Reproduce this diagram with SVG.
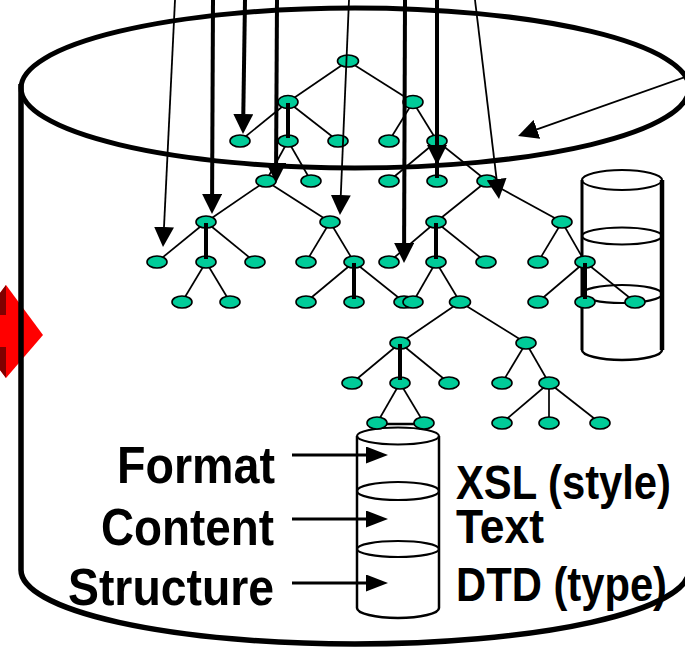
<svg xmlns="http://www.w3.org/2000/svg" width="685" height="650" viewBox="0 0 685 650">
  <style>
    .n { fill: #00CC99; stroke: #000; stroke-width: 1.6; }
    .e { stroke: #000; stroke-width: 1.7; fill: none; }
    .stem { stroke: #000; stroke-width: 4; fill: none; }
    .thin { stroke: #000; stroke-width: 1.8; fill: none; marker-end: url(#head); }
    .thick { stroke: #000; stroke-width: 4; fill: none; marker-end: url(#head); }
    .lab { stroke: #000; stroke-width: 3; fill: none; marker-end: url(#labhead); }
    .cyl { stroke: #000; fill: none; }
    text { font-family: "Liberation Sans", Arial, sans-serif; font-weight: bold; font-size: 52px; fill: #000; }
    .r { font-size: 48px; }
  </style>
  <defs>
    <marker id="head" markerUnits="userSpaceOnUse" viewBox="0 0 20 20" markerWidth="20" markerHeight="20" refX="0" refY="10" orient="auto">
      <path d="M0,0 L20,10 L0,20 z" fill="#000"/>
    </marker>
    <marker id="labhead" markerUnits="userSpaceOnUse" viewBox="0 0 22 17" markerWidth="22" markerHeight="17" refX="0" refY="8.5" orient="auto">
      <path d="M0,0 L22,8.5 L0,17 z" fill="#000"/>
    </marker>
  </defs>

  <!-- double-headed red arrow at the left margin -->
  <g id="exchange-arrow">
    <polygon points="6,285 43,335 6,378 0,370 0,293" fill="#FF0000"/>
    <polygon points="6,285 0,293 0,315 6,315" fill="#800000"/>
    <polygon points="6,347 0,347 0,370 6,378" fill="#800000"/>
  </g>

  <!-- large repository cylinder -->
  <g id="repository">
    <ellipse class="cyl" cx="355" cy="88" rx="334" ry="80" stroke-width="5"/>
    <path class="cyl" d="M21,84 V570 A334 74 0 0 0 689,570" stroke-width="5.5"/>
  </g>

  <!-- small storage cylinder, right -->
  <g id="store-right">
    <ellipse class="cyl" cx="622" cy="180" rx="40" ry="10" stroke-width="2"/>
    <ellipse class="cyl" cx="622" cy="236" rx="40" ry="8.5" stroke-width="2.2"/>
    <ellipse class="cyl" cx="622" cy="294" rx="40" ry="9" stroke-width="2.2"/>
    <line class="cyl" x1="582" y1="180" x2="582" y2="350" stroke-width="3"/>
    <line class="cyl" x1="662" y1="180" x2="662" y2="350" stroke-width="4.5"/>
    <path class="cyl" d="M582,350 A40 10 0 0 0 662,350" stroke-width="2.5"/>
  </g>

  <!-- small storage cylinder, bottom -->
  <g id="store-bottom">
    <ellipse class="cyl" cx="398" cy="436" rx="41" ry="8.5" stroke-width="2"/>
    <ellipse class="cyl" cx="398" cy="491" rx="41" ry="9" stroke-width="2.2"/>
    <ellipse class="cyl" cx="398" cy="549" rx="41" ry="8" stroke-width="2.2"/>
    <line class="cyl" x1="357" y1="436" x2="357" y2="608" stroke-width="2.5"/>
    <line class="cyl" x1="439" y1="436" x2="439" y2="608" stroke-width="2.5"/>
    <path class="cyl" d="M357,608 A41 10 0 0 0 439,608" stroke-width="2.5"/>
  </g>

  <!-- tree edges -->
  <g id="tree-edges" class="e">
    <line x1="348" y1="61" x2="288" y2="102"/>
    <line x1="348" y1="61" x2="413" y2="102"/>
    <line x1="288" y1="102" x2="240" y2="141"/>
    <line x1="288" y1="102" x2="338" y2="141"/>
    <line x1="413" y1="102" x2="389" y2="141"/>
    <line x1="413" y1="102" x2="437" y2="141"/>
    <line x1="288" y1="141" x2="266" y2="181"/>
    <line x1="288" y1="141" x2="311" y2="181"/>
    <line x1="437" y1="141" x2="389" y2="181"/>
    <line x1="437" y1="141" x2="487" y2="181"/>
    <line x1="266" y1="181" x2="206" y2="222"/>
    <line x1="266" y1="181" x2="330" y2="222"/>
    <line x1="206" y1="222" x2="157" y2="262"/>
    <line x1="206" y1="222" x2="255" y2="262"/>
    <line x1="206" y1="262" x2="182" y2="302"/>
    <line x1="206" y1="262" x2="230" y2="302"/>
    <line x1="330" y1="222" x2="306" y2="262"/>
    <line x1="330" y1="222" x2="354" y2="262"/>
    <line x1="354" y1="262" x2="306" y2="302"/>
    <line x1="354" y1="262" x2="404" y2="302"/>
    <line x1="487" y1="181" x2="436" y2="222"/>
    <line x1="487" y1="181" x2="562" y2="222"/>
    <line x1="436" y1="222" x2="389" y2="262"/>
    <line x1="436" y1="222" x2="486" y2="262"/>
    <line x1="436" y1="262" x2="413" y2="302"/>
    <line x1="436" y1="262" x2="460" y2="302"/>
    <line x1="562" y1="222" x2="538" y2="262"/>
    <line x1="562" y1="222" x2="585" y2="262"/>
    <line x1="585" y1="262" x2="538" y2="302"/>
    <line x1="585" y1="262" x2="635" y2="302"/>
    <line x1="460" y1="302" x2="400" y2="343"/>
    <line x1="460" y1="302" x2="526" y2="343"/>
    <line x1="400" y1="343" x2="352" y2="383"/>
    <line x1="400" y1="343" x2="449" y2="383"/>
    <line x1="400" y1="383" x2="377" y2="423"/>
    <line x1="400" y1="383" x2="424" y2="423"/>
    <line x1="526" y1="343" x2="502" y2="383"/>
    <line x1="526" y1="343" x2="549" y2="383"/>
    <line x1="549" y1="383" x2="502" y2="423"/>
    <line x1="549" y1="383" x2="549" y2="423"/>
    <line x1="549" y1="383" x2="600" y2="423"/>
    <line x1="377" y1="424" x2="424" y2="424" stroke-width="2.5"/>
  </g>

  <!-- element nodes -->
  <g id="a0"><ellipse class="n" cx="348" cy="61" rx="10.5" ry="6"/></g>
  <g id="a1"><ellipse class="n" cx="288" cy="102" rx="10" ry="6.5"/></g>
  <g id="a2"><ellipse class="n" cx="413" cy="102" rx="10" ry="6.5"/></g>
  <g id="a3"><ellipse class="n" cx="240" cy="141" rx="10" ry="6"/></g>
  <g id="a4"><ellipse class="n" cx="288" cy="141" rx="10" ry="6"/></g>
  <g id="a5"><ellipse class="n" cx="338" cy="141" rx="10" ry="6"/></g>
  <g id="a6"><ellipse class="n" cx="389" cy="141" rx="10" ry="6"/></g>
  <g id="a7"><ellipse class="n" cx="437" cy="141" rx="10" ry="6"/></g>
  <g id="a8"><ellipse class="n" cx="266" cy="181" rx="10" ry="6"/></g>
  <g id="a9"><ellipse class="n" cx="311" cy="181" rx="10" ry="6"/></g>
  <g id="a10"><ellipse class="n" cx="389" cy="181" rx="10" ry="6"/></g>
  <g id="a11"><ellipse class="n" cx="437" cy="181" rx="10" ry="6"/></g>
  <g id="a12"><ellipse class="n" cx="487" cy="181" rx="10" ry="6"/></g>
  <g id="b1"><ellipse class="n" cx="206" cy="222" rx="10" ry="6"/></g>
  <g id="b2"><ellipse class="n" cx="330" cy="222" rx="10" ry="6"/></g>
  <g id="b3"><ellipse class="n" cx="157" cy="262" rx="10" ry="6"/></g>
  <g id="b4"><ellipse class="n" cx="206" cy="262" rx="10" ry="6"/></g>
  <g id="b5"><ellipse class="n" cx="255" cy="262" rx="10" ry="6"/></g>
  <g id="b6"><ellipse class="n" cx="182" cy="302" rx="10" ry="6"/></g>
  <g id="b7"><ellipse class="n" cx="230" cy="302" rx="10" ry="6"/></g>
  <g id="b8"><ellipse class="n" cx="306" cy="262" rx="10" ry="6"/></g>
  <g id="b9"><ellipse class="n" cx="354" cy="262" rx="10" ry="6"/></g>
  <g id="b10"><ellipse class="n" cx="306" cy="302" rx="10" ry="6"/></g>
  <g id="b11"><ellipse class="n" cx="354" cy="302" rx="10" ry="6"/></g>
  <g id="b12"><ellipse class="n" cx="404" cy="302" rx="10" ry="6"/></g>
  <g id="c1"><ellipse class="n" cx="436" cy="222" rx="10" ry="6"/></g>
  <g id="c2"><ellipse class="n" cx="562" cy="222" rx="10" ry="6"/></g>
  <g id="c3"><ellipse class="n" cx="389" cy="262" rx="10" ry="6"/></g>
  <g id="c4"><ellipse class="n" cx="436" cy="262" rx="10" ry="6"/></g>
  <g id="c5"><ellipse class="n" cx="486" cy="262" rx="10" ry="6"/></g>
  <g id="c6"><ellipse class="n" cx="413" cy="302" rx="10" ry="6"/></g>
  <g id="c7"><ellipse class="n" cx="460" cy="302" rx="10.5" ry="6"/></g>
  <g id="c8"><ellipse class="n" cx="538" cy="262" rx="10" ry="6"/></g>
  <g id="c9"><ellipse class="n" cx="585" cy="262" rx="10" ry="6"/></g>
  <g id="c10"><ellipse class="n" cx="538" cy="302" rx="10" ry="6"/></g>
  <g id="c11"><ellipse class="n" cx="585" cy="302" rx="10" ry="6"/></g>
  <g id="c12"><ellipse class="n" cx="635" cy="302" rx="10" ry="6"/></g>
  <g id="d1"><ellipse class="n" cx="400" cy="343" rx="10" ry="6"/></g>
  <g id="d2"><ellipse class="n" cx="526" cy="343" rx="10" ry="6"/></g>
  <g id="d3"><ellipse class="n" cx="352" cy="383" rx="10" ry="6"/></g>
  <g id="d4"><ellipse class="n" cx="400" cy="383" rx="10" ry="6"/></g>
  <g id="d5"><ellipse class="n" cx="449" cy="383" rx="10" ry="6"/></g>
  <g id="d6"><ellipse class="n" cx="377" cy="423" rx="10" ry="6"/></g>
  <g id="d7"><ellipse class="n" cx="424" cy="423" rx="10" ry="6"/></g>
  <g id="d8"><ellipse class="n" cx="502" cy="383" rx="10" ry="6"/></g>
  <g id="d9"><ellipse class="n" cx="549" cy="383" rx="10" ry="6"/></g>
  <g id="d10"><ellipse class="n" cx="502" cy="423" rx="10" ry="6"/></g>
  <g id="d11"><ellipse class="n" cx="549" cy="423" rx="10" ry="6"/></g>
  <g id="d12"><ellipse class="n" cx="600" cy="423" rx="10" ry="6"/></g>

  <!-- heavy stems to the middle child -->
  <g id="stems" class="stem">
    <line x1="288" y1="103" x2="288" y2="138"/>
    <line x1="437" y1="142" x2="437" y2="178"/>
    <line x1="206" y1="223" x2="206" y2="259"/>
    <line x1="354" y1="263" x2="354" y2="299"/>
    <line x1="436" y1="223" x2="436" y2="259"/>
    <line x1="585" y1="263" x2="585" y2="299"/>
    <line x1="400" y1="344" x2="400" y2="380"/>
  </g>

  <!-- incoming pointers -->
  <g id="pointers">
    <line class="thin" x1="175" y1="0" x2="164" y2="227"/>
    <line class="thick" x1="213" y1="0" x2="212.1" y2="194"/>
    <line class="thick" x1="245" y1="0" x2="243.3" y2="114"/>
    <line class="thick" x1="277" y1="0" x2="276.1" y2="163"/>
    <line class="thin" x1="349" y1="0" x2="340.8" y2="195"/>
    <line class="thick" x1="405" y1="0" x2="404.1" y2="243"/>
    <line class="thick" x1="437" y1="0" x2="437" y2="145"/>
    <line class="thin" x1="475" y1="0" x2="496.6" y2="179.1"/>
    <line class="thin" x1="685" y1="77" x2="536.9" y2="129.3"/>
  </g>

  <!-- layer labels -->
  <g id="label-arrows">
    <line class="lab" x1="292" y1="455" x2="366" y2="455"/>
    <line class="lab" x1="292" y1="519" x2="366" y2="519"/>
    <line class="lab" x1="292" y1="583" x2="366" y2="583"/>
  </g>
  <g id="labels">
    <text x="117" y="483" textLength="158" lengthAdjust="spacingAndGlyphs">Format</text>
    <text x="101" y="545" textLength="173" lengthAdjust="spacingAndGlyphs">Content</text>
    <text x="68" y="605" textLength="206" lengthAdjust="spacingAndGlyphs">Structure</text>
    <text class="r" x="456" y="499" textLength="215" lengthAdjust="spacingAndGlyphs">XSL (style)</text>
    <text class="r" x="456" y="543" textLength="88" lengthAdjust="spacingAndGlyphs">Text</text>
    <text class="r" x="456" y="601" textLength="211" lengthAdjust="spacingAndGlyphs">DTD (type)</text>
  </g>
</svg>
